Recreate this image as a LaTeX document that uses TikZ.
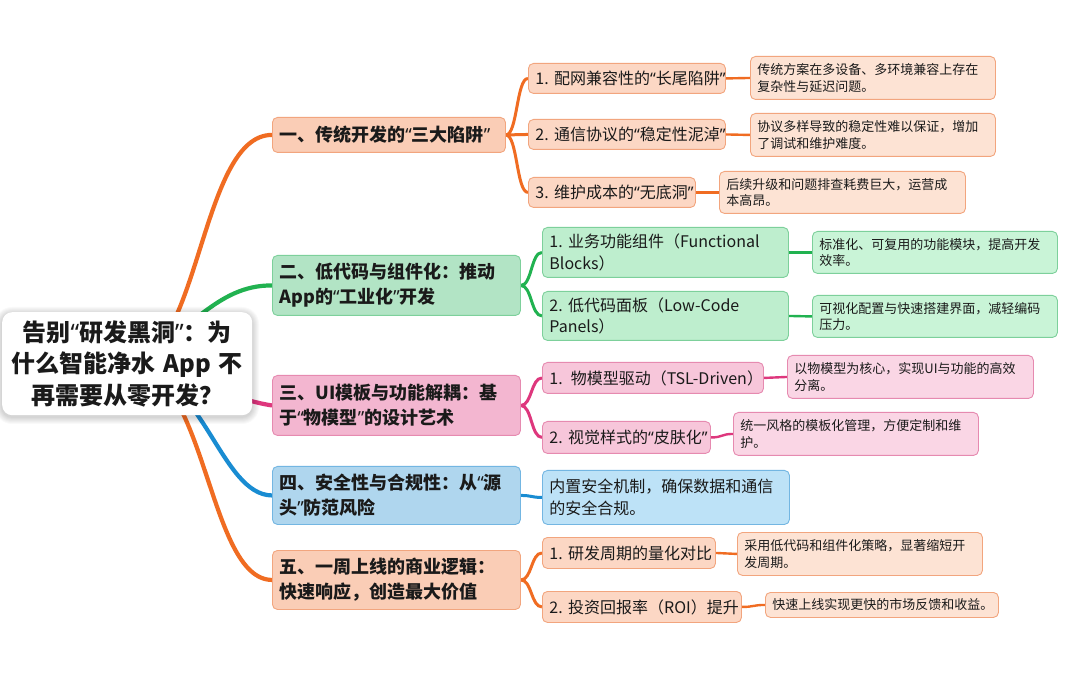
\documentclass[tikz,border=0pt]{standalone}
\usepackage{fontspec}
\setmainfont{Noto Sans CJK SC}
\newfontfamily\qf{Noto Sans}
\newcommand\oq{{\qf “}}
\newcommand\cq{{\qf ”}}
\pgfdeclarelayer{bg}
\pgfsetlayers{bg,main}
\definecolor{txt}{RGB}{26,26,26}
\definecolor{oC}{RGB}{240,108,34}
\definecolor{oB}{RGB}{250,205,182}
\definecolor{oS}{RGB}{252,215,196}
\definecolor{oD}{RGB}{253,227,212}
\definecolor{oE}{RGB}{242,165,126}
\definecolor{gC}{RGB}{33,178,80}
\definecolor{gB}{RGB}{178,228,197}
\definecolor{gS}{RGB}{190,238,206}
\definecolor{gD}{RGB}{201,244,215}
\definecolor{gE}{RGB}{125,208,155}
\definecolor{pC}{RGB}{222,55,125}
\definecolor{pB}{RGB}{243,182,208}
\definecolor{pS}{RGB}{247,198,218}
\definecolor{pD}{RGB}{250,214,229}
\definecolor{pE}{RGB}{230,138,176}
\definecolor{bC}{RGB}{25,140,210}
\definecolor{bB}{RGB}{175,214,238}
\definecolor{bD}{RGB}{189,226,247}
\definecolor{bE}{RGB}{115,182,226}
\tikzset{
  mmbox/.style={draw, rounded corners=5pt, line width=0.9pt, inner xsep=7pt, inner ysep=0pt, align=left, text=txt},
  brbox/.style={mmbox, font=\bfseries\fontsize{18}{25}\selectfont},
  subbox/.style={mmbox, font=\fontsize{16}{21.5}\selectfont},
  detbox/.style={mmbox, font=\fontsize{13}{16.5}\selectfont},
  rootbox/.style={fill=white, rounded corners=10pt, inner xsep=7pt, inner ysep=0pt, align=center, text=txt, font=\bfseries\fontsize{24}{31.5}\selectfont},
  rootconn/.style={line width=4.2pt},
  subconn/.style={line width=3pt},
  detconn/.style={line width=2.4pt},
}
\newcommand\mmn[7]{%
  \pgfmathsetmacro\mmw{#5-#3}%
  \pgfmathsetmacro\mmh{#6-#4}%
  \pgfmathsetmacro\mmtw{#5-#3-14}%
  \node[#2, anchor=north west, minimum width=\mmw pt, minimum height=\mmh pt, text width=\mmtw pt] (#1) at (#3,#4) {#7};}
\newcommand\lnk[4]{\draw[#1] (#2) .. controls +(#4,0) and +(-#4,0) .. (#3);}
\begin{document}
\begin{tikzpicture}[x=1pt,y=-1pt]
\useasboundingbox (0,0) rectangle (1080,676);
\begin{pgfonlayer}{bg}
\fill[white] (0,0) rectangle (1080,676);
\end{pgfonlayer}
% shadow of root
\foreach \i in {1,...,7}{
  \fill[black, opacity=0.022, rounded corners=10+\i] (2-\i,312-\i+2) rectangle (252+\i,415+\i+2);
}
\mmn{root}{rootbox}{2}{312}{252}{415}{告别\oq 研发黑洞\cq ：为\\什么智能净水~App~不\\再需要从零开发？}
% branch 1
\mmn{B1}{brbox, fill=oB, draw=oE}{272}{117}{505}{152}{一、传统开发的\oq 三大陷阱\cq}
\mmn{S11}{subbox, fill=oS, draw=oE}{528}{63}{725}{93}{1.~配网兼容性的\oq 长尾陷阱\cq}
\mmn{S12}{subbox, fill=oS, draw=oE}{528}{119}{725}{149}{2.~通信协议的\oq 稳定性泥淖\cq}
\mmn{S13}{subbox, fill=oS, draw=oE}{528}{177}{695}{207}{3.~维护成本的\oq 无底洞\cq}
\mmn{D11}{detbox, fill=oD, draw=oE}{750}{56}{995}{99}{传统方案在多设备、多环境兼容上存在\\复杂性与延迟问题。}
\mmn{D12}{detbox, fill=oD, draw=oE}{750}{113}{995}{156}{协议多样导致的稳定性难以保证，增加\\了调试和维护难度。}
\mmn{D13}{detbox, fill=oD, draw=oE}{719}{171}{965}{213}{后续升级和问题排查耗费巨大，运营成\\本高昂。}
% branch 2
\mmn{B2}{brbox, fill=gB, draw=gE}{272}{255}{520}{315}{二、低代码与组件化：推动\\App的\oq 工业化\cq 开发}
\mmn{S21}{subbox, fill=gS, draw=gE}{542}{227}{788}{277}{1.~业务功能组件（Functional\\Blocks）}
\mmn{S22}{subbox, fill=gS, draw=gE}{542}{291}{788}{340}{2.~低代码面板（Low-Code\\Panels）}
\mmn{D21}{detbox, fill=gD, draw=gE}{812}{231}{1057}{273}{标准化、可复用的功能模块，提高开发\\效率。}
\mmn{D22}{detbox, fill=gD, draw=gE}{812}{295}{1057}{337}{可视化配置与快速搭建界面，减轻编码\\压力。}
% branch 3
\mmn{B3}{brbox, fill=pB, draw=pE}{272}{375}{520}{435}{三、UI模板与功能解耦：基\\于\oq 物模型\cq 的设计艺术}
\mmn{S31}{subbox, fill=pS, draw=pE}{542}{362}{763}{393}{\mbox{1. 物模型驱动（TSL-Driven）}}
\mmn{S32}{subbox, fill=pS, draw=pE}{542}{421}{710}{453}{2.~视觉样式的\oq 皮肤化\cq}
\mmn{D31}{detbox, fill=pD, draw=pE}{787}{355}{1033}{398}{以物模型为核心，实现UI与功能的高效\\分离。}
\mmn{D32}{detbox, fill=pD, draw=pE}{733}{412}{978}{455}{统一风格的模板化管理，方便定制和维\\护。}
% branch 4
\mmn{B4}{brbox, fill=bB, draw=bE}{272}{466}{520}{524}{四、安全性与合规性：从\oq 源\\头\cq 防范风险}
\mmn{D4}{subbox, fill=bD, draw=bE}{542}{470}{789}{524}{内置安全机制，确保数据和通信\\的安全合规。}
% branch 5
\mmn{B5}{brbox, fill=oB, draw=oE}{272}{550}{520}{609}{五、一周上线的商业逻辑：\\快速响应，创造最大价值}
\mmn{S51}{subbox, fill=oS, draw=oE}{542}{537}{715}{568}{1.~研发周期的量化对比}
\mmn{S52}{subbox, fill=oS, draw=oE}{542}{591}{741}{622}{2.~投资回报率（ROI）提升}
\mmn{D51}{detbox, fill=oD, draw=oE}{737}{532}{982}{575}{采用低代码和组件化策略，显著缩短开\\发周期。}
\mmn{D52}{detbox, fill=oD, draw=oE}{765}{592}{998}{617}{快速上线实现更快的市场反馈和收益。}
\begin{pgfonlayer}{bg}
% root connectors
\draw[rootconn, oC] (root.center) .. controls (200,363.5) and (200,134.5) .. (B1.west);
\draw[rootconn, gC] (root.center) .. controls (190,335) and (215,285) .. (B2.west);
\draw[rootconn, pC] (root.center) .. controls (200,380) and (235,400) .. (B3.west);
\draw[rootconn, bC] (root.center) .. controls (203,370) and (220,495) .. (B4.west);
\draw[rootconn, oC] (root.center) .. controls (207,363.5) and (207,579.5) .. (B5.west);
% branch to sub
\lnk{subconn, oC}{B1.east}{S11.west}{11.5}
\lnk{subconn, oC}{B1.east}{S12.west}{11.5}
\lnk{subconn, oC}{B1.east}{S13.west}{11.5}
\lnk{subconn, gC}{B2.east}{S21.west}{11}
\lnk{subconn, gC}{B2.east}{S22.west}{11}
\lnk{subconn, pC}{B3.east}{S31.west}{11}
\lnk{subconn, pC}{B3.east}{S32.west}{11}
\lnk{subconn, bC}{B4.east}{D4.west}{11}
\lnk{subconn, oC}{B5.east}{S51.west}{11}
\lnk{subconn, oC}{B5.east}{S52.west}{11}
% sub to detail
\lnk{detconn, oC}{S11.east}{D11.west}{12}
\lnk{detconn, oC}{S12.east}{D12.west}{12}
\lnk{detconn, oC}{S13.east}{D13.west}{12}
\lnk{detconn, gC}{S21.east}{D21.west}{12}
\lnk{detconn, gC}{S22.east}{D22.west}{12}
\lnk{detconn, pC}{S31.east}{D31.west}{12}
\lnk{detconn, pC}{S32.east}{D32.west}{12}
\lnk{detconn, oC}{S51.east}{D51.west}{11}
\lnk{detconn, oC}{S52.east}{D52.west}{12}
\end{pgfonlayer}
\end{tikzpicture}
\end{document}
